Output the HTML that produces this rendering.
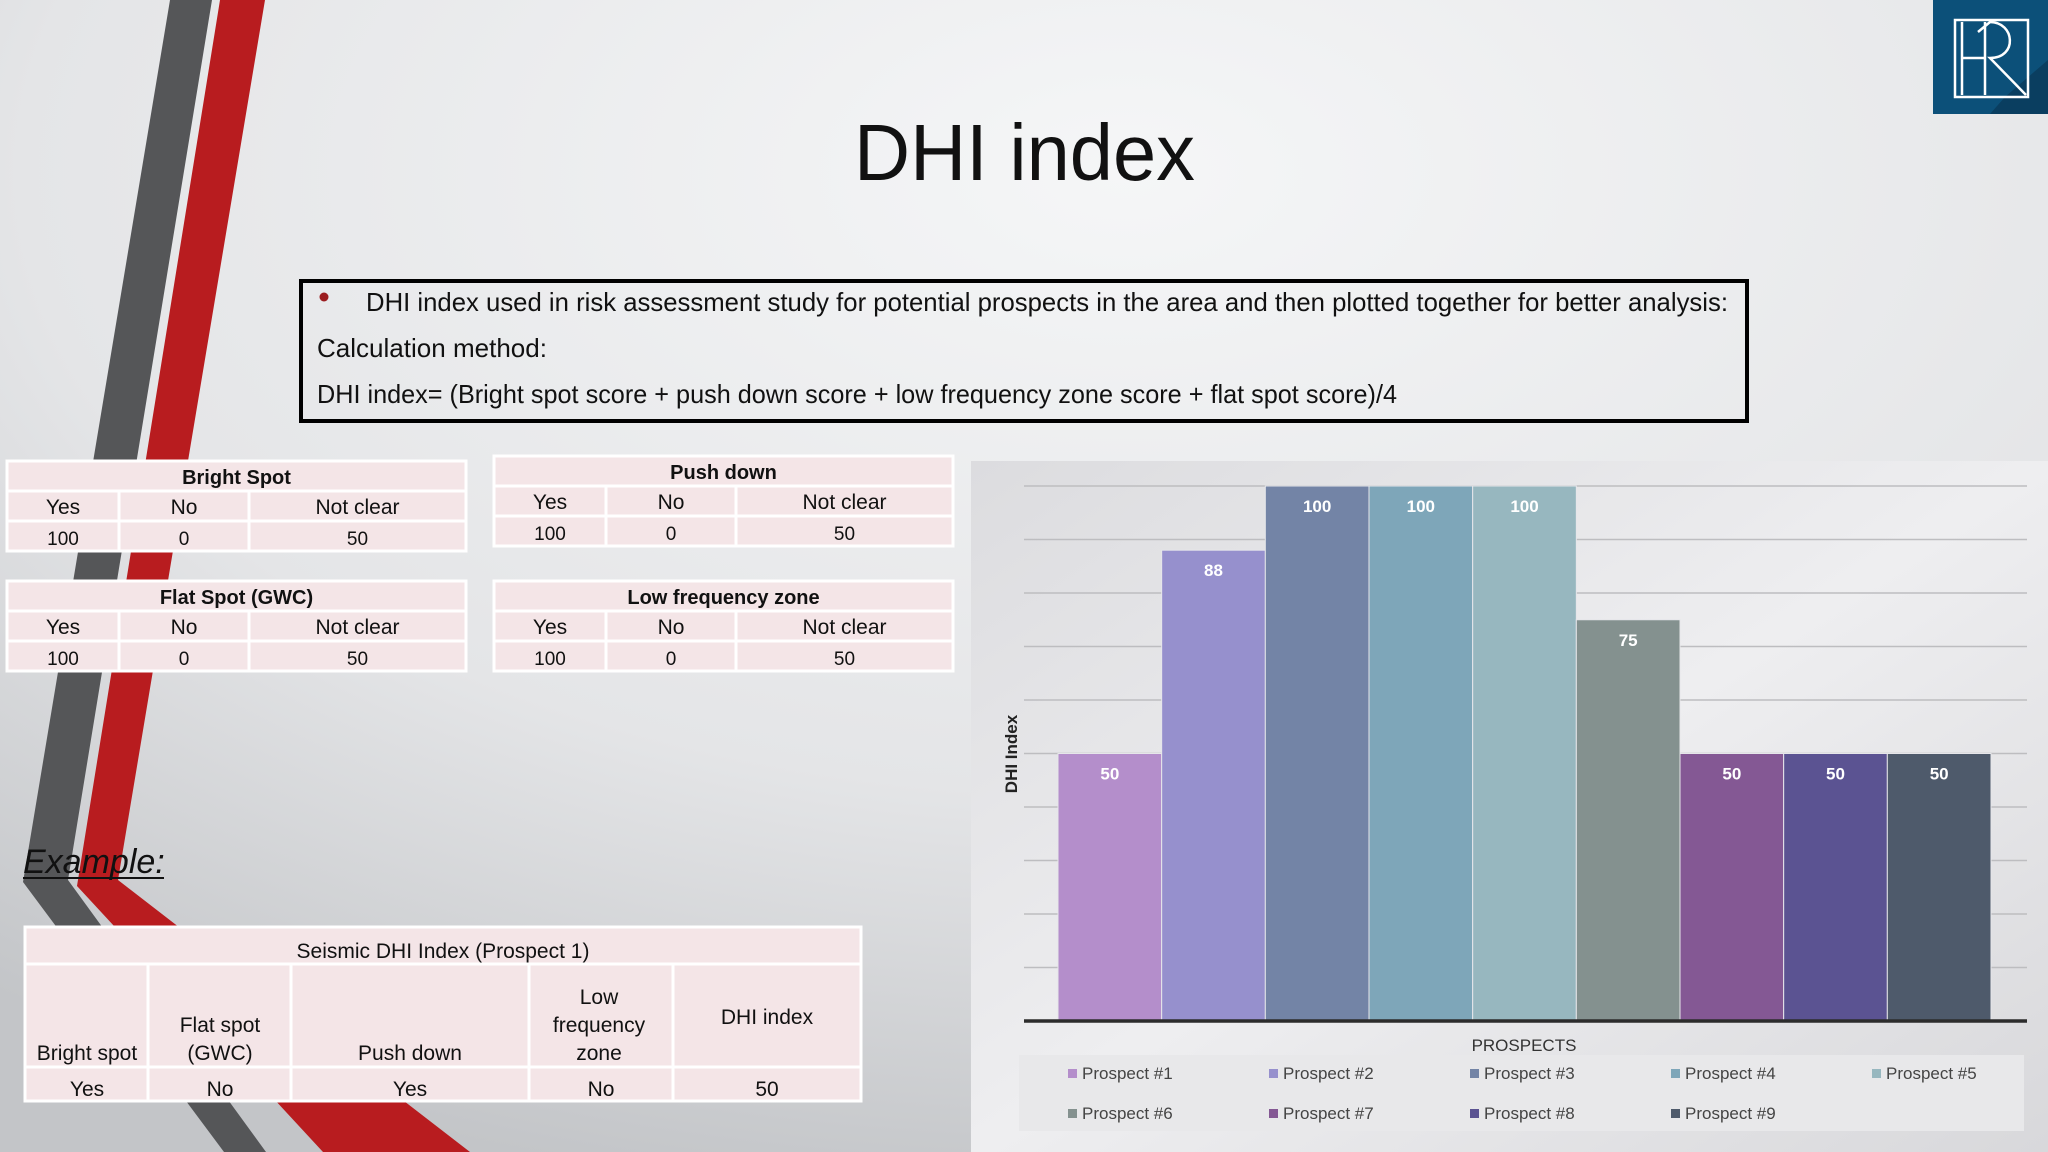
<!DOCTYPE html>
<html><head><meta charset="utf-8"><style>
html,body{margin:0;padding:0;width:2048px;height:1152px;overflow:hidden;}
body{background:#e9eaec;font-family:"Liberation Sans",sans-serif;}
svg text{font-family:"Liberation Sans",sans-serif;}
</style></head><body>
<svg id="page" width="2048" height="1152" viewBox="0 0 2048 1152" xmlns="http://www.w3.org/2000/svg">
<defs>
<radialGradient id="bg" cx="0.55" cy="0.15" r="0.9">
<stop offset="0" stop-color="#f5f6f7"/><stop offset="0.6" stop-color="#e4e5e7"/><stop offset="1" stop-color="#c3c5c8"/></radialGradient>
<linearGradient id="chartbg" x1="0" y1="0" x2="1" y2="1">
<stop offset="0" stop-color="#dcdcdf"/><stop offset="0.5" stop-color="#eeeef0"/><stop offset="1" stop-color="#d8d8db"/></linearGradient>
</defs>
<rect width="2048" height="1152" fill="url(#bg)"/>
<polygon points="220,0 265,0 118,880 470,1152 323,1152 77,886" fill="#b81c1f"/>
<polygon points="170,0 212,0 68,880 266,1152 224,1152 23,882" fill="#555658"/>

<g>
<rect x="1933" y="0" width="115" height="114" fill="#0c5079"/>
<polygon points="2005,97 2048,60 2048,114 1990,114" fill="#0a3e60"/>
<rect x="1955" y="20" width="73" height="77" fill="none" stroke="#fff" stroke-width="2.5"/>
<path d="M1962,22 V95 M1962,58 H1985 M1985,22 V95 M1978,32 L1990,22 C2015,22 2018,58 1990,58 L2026,95" fill="none" stroke="#fff" stroke-width="2.5"/>
</g>

<text x="854" y="180" font-size="80" fill="#111" textLength="341" lengthAdjust="spacingAndGlyphs">DHI index</text>

<g>
<rect x="301" y="281" width="1446" height="140" fill="none" stroke="#000" stroke-width="4"/>
<circle cx="324" cy="297" r="4.5" fill="#9b1c1f"/>
<text x="366" y="311" font-size="26" fill="#111" textLength="1362" lengthAdjust="spacingAndGlyphs">DHI index used in risk assessment study for potential prospects in the area and then plotted together for better analysis:</text>
<text x="317" y="357" font-size="26" fill="#111" textLength="230" lengthAdjust="spacingAndGlyphs">Calculation method:</text>
<text x="317" y="403" font-size="26" fill="#111" textLength="1080" lengthAdjust="spacingAndGlyphs">DHI index= (Bright spot score + push down score + low frequency zone score + flat spot score)/4</text>
</g>

<g id="tables"></g>

<text x="23" y="873" font-size="34" font-style="italic" fill="#111">Example:</text>
<line x1="23" y1="878" x2="164" y2="878" stroke="#111" stroke-width="2"/>

<g>
<rect x="25" y="927" width="836" height="174" fill="#f4e5e7" stroke="#fff" stroke-width="3"/>
<line x1="25" y1="964" x2="861" y2="964" stroke="#fff" stroke-width="3"/>
<line x1="25" y1="1067" x2="861" y2="1067" stroke="#fff" stroke-width="3"/>
<line x1="148" y1="964" x2="148" y2="1101" stroke="#fff" stroke-width="3"/>
<line x1="291" y1="964" x2="291" y2="1101" stroke="#fff" stroke-width="3"/>
<line x1="529" y1="964" x2="529" y2="1101" stroke="#fff" stroke-width="3"/>
<line x1="673" y1="964" x2="673" y2="1101" stroke="#fff" stroke-width="3"/>
<g font-size="21" fill="#111" text-anchor="middle">
<text x="443" y="958">Seismic DHI Index (Prospect 1)</text>
<text x="87" y="1060">Bright spot</text>
<text x="220" y="1032">Flat spot</text><text x="220" y="1060">(GWC)</text>
<text x="410" y="1060">Push down</text>
<text x="599" y="1004">Low</text><text x="599" y="1032">frequency</text><text x="599" y="1060">zone</text>
<text x="767" y="1024">DHI index</text>
<text x="87" y="1096">Yes</text><text x="220" y="1096">No</text><text x="410" y="1096">Yes</text><text x="601" y="1096">No</text><text x="767" y="1096">50</text>
</g>
</g>

<g>
<rect x="971" y="461" width="1077" height="691" fill="url(#chartbg)"/>
<g id="grid"></g>
<g id="bars"></g>
<line x1="1024" y1="1021" x2="2027" y2="1021" stroke="#2c2c2c" stroke-width="3.5"/>
<text transform="translate(1017,754) rotate(-90)" text-anchor="middle" font-size="17" font-weight="bold" fill="#222">DHI Index</text>
<text x="1524" y="1051" text-anchor="middle" font-size="17" fill="#333">PROSPECTS</text>
<rect x="1019" y="1055" width="1005" height="76" fill="#e8e8ea"/>
<g id="legend"></g>
</g>
</svg>
<script>
const NS='http://www.w3.org/2000/svg';
const categories=['Prospect #1','Prospect #2','Prospect #3','Prospect #4','Prospect #5','Prospect #6','Prospect #7','Prospect #8','Prospect #9'];
const values=[50,88,100,100,100,75,50,50,50];
const colors=['#b48ecb','#9690cd','#7384a6','#7ea6b9','#97b7bf','#84918f','#845894','#5b5392','#4e5a6b'];
const gridTicks=[0,10,20,30,40,50,60,70,80,90,100];
const yMax=100;
const plot={x0:1058,x1:1991,y0:1021,y1:486};
function yS(v){return plot.y0-(v/yMax)*(plot.y0-plot.y1);}
const bw=(plot.x1-plot.x0)/categories.length;
function xS(i){return plot.x0+i*bw;}
function mk(tag,attrs,parent){const e=document.createElementNS(NS,tag);for(const k in attrs)e.setAttribute(k,attrs[k]);parent.appendChild(e);return e;}
const grid=document.getElementById('grid');
gridTicks.forEach(t=>{
  const l=mk('line',{x1:1024,x2:2027,y1:yS(t),y2:yS(t),stroke:'#bdbdc0','stroke-width':1.5},grid);
  
  
});
const bars=document.getElementById('bars');
values.forEach((v,i)=>{
  const r=mk('rect',{x:xS(i),y:yS(v),width:bw,height:yS(0)-yS(v),fill:colors[i],stroke:'#e6e6ea','stroke-width':1},bars);
  
  
  const t=mk('text',{x:xS(i)+bw/2,y:yS(v)+26,'text-anchor':'middle','font-size':17,'font-weight':'bold',fill:'#fff'},bars);
  t.textContent=v;
  
  
});
const leg=document.getElementById('legend');
categories.forEach((c,i)=>{
  const col=i%5,row=Math.floor(i/5);
  const x=1068+col*201,y=1074+row*40;
  const g=mk('g',{},leg);
  
  
  mk('rect',{x:x,y:y-5,width:9,height:9,fill:colors[i]},g);
  const t=mk('text',{x:x+14,y:y+5,'font-size':17,fill:'#444'},g);
  t.textContent=c;
});
const tables=[
 {name:'bright-spot-table',title:'Bright Spot',x:7,y:461},
 {name:'push-down-table',title:'Push down',x:494,y:456},
 {name:'flat-spot-table',title:'Flat Spot (GWC)',x:7,y:581},
 {name:'low-frequency-table',title:'Low frequency zone',x:494,y:581}];
const tg=document.getElementById('tables');
tables.forEach(tb=>{
  const g=mk('g',{},tg);
  
  
  const W=459,x=tb.x,y=tb.y,c1=x+112,c2=x+242;
  mk('rect',{x:x,y:y,width:W,height:90,fill:'#f4e5e7',stroke:'#fff','stroke-width':3},g);
  mk('line',{x1:x,x2:x+W,y1:y+30,y2:y+30,stroke:'#fff','stroke-width':3},g);
  mk('line',{x1:x,x2:x+W,y1:y+60,y2:y+60,stroke:'#fff','stroke-width':3},g);
  mk('line',{x1:c1,x2:c1,y1:y+30,y2:y+90,stroke:'#fff','stroke-width':3},g);
  mk('line',{x1:c2,x2:c2,y1:y+30,y2:y+90,stroke:'#fff','stroke-width':3},g);
  const t=mk('text',{x:x+W/2,y:y+23,'text-anchor':'middle','font-size':20,'font-weight':'bold',fill:'#111'},g);t.textContent=tb.title;
  [['Yes',(x+c1)/2],['No',(c1+c2)/2],['Not clear',(c2+x+W)/2]].forEach(a=>{const e=mk('text',{x:a[1],y:y+53,'text-anchor':'middle','font-size':21,fill:'#111'},g);e.textContent=a[0];});
  [['100',(x+c1)/2],['0',(c1+c2)/2],['50',(c2+x+W)/2]].forEach(a=>{const e=mk('text',{x:a[1],y:y+84,'text-anchor':'middle','font-size':19,fill:'#111'},g);e.textContent=a[0];});
});
</script>
</body></html>
